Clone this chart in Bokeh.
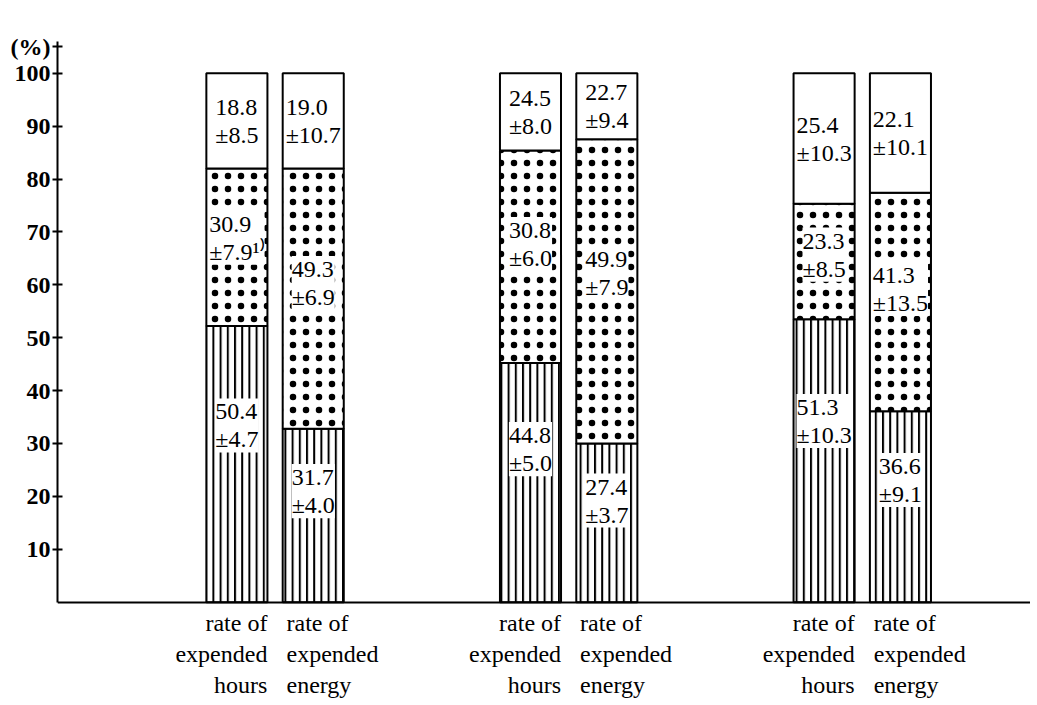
from bokeh.plotting import figure
from bokeh.models import ColumnDataSource, LabelSet, Range1d, FixedTicker
from bokeh.core.properties import value
from bokeh.transform import dodge
from bokeh.embed import file_html
from bokeh.resources import INLINE

# ---- data ----
groups = [1, 2, 3]
measures = ["rate of\nexpended\nhours", "rate of\nexpended\nenergy"]

# drawn segment heights (%)
hours_lines = [52.2, 45.2, 53.5]
hours_dots = [29.8, 40.2, 21.8]
energy_lines = [32.8, 30.0, 36.1]
energy_dots = [49.2, 57.5, 41.3]

# printed values: mean and SD per segment (bottom, middle, top)
hours_bottom_mean = ["50.4", "44.8", "51.3"]
hours_bottom_sd = ["4.7", "5.0", "10.3"]
hours_mid_mean = ["30.9", "30.8", "23.3"]
hours_mid_sd = ["7.9¹⁾", "6.0", "8.5"]
hours_top_mean = ["18.8", "24.5", "25.4"]
hours_top_sd = ["8.5", "8.0", "10.3"]

energy_bottom_mean = ["31.7", "27.4", "36.6"]
energy_bottom_sd = ["4.0", "3.7", "9.1"]
energy_mid_mean = ["49.3", "49.9", "41.3"]
energy_mid_sd = ["6.9", "7.9", "13.5"]
energy_top_mean = ["19.0", "22.7", "22.1"]
energy_top_sd = ["10.7", "9.4", "10.1"]

y_ticks = [10, 20, 30, 40, 50, 60, 70, 80, 90, 100]

FONT = "Liberation Serif"

p = figure(width=1030, height=700,
           x_range=Range1d(0.259, 3.573), y_range=Range1d(-18.6, 106),
           output_backend="svg", toolbar_location=None,
           min_border_left=57, min_border_right=0,
           min_border_top=41, min_border_bottom=0)
p.outline_line_color = None
p.grid.visible = False
p.background_fill_color = "white"

# y axis
p.yaxis.ticker = FixedTicker(ticks=y_ticks + [105])
p.yaxis.bounds = (0, 106)
p.yaxis.major_label_overrides = {105: "(%)"}
p.yaxis.axis_line_width = 2
p.yaxis.major_tick_line_width = 2
p.yaxis.major_tick_in = 5
p.yaxis.major_tick_out = 5
p.yaxis.minor_tick_line_color = None
p.yaxis.major_label_standoff = 2
p.yaxis.major_label_text_font = FONT
p.yaxis.major_label_text_font_size = "24px"
p.yaxis.major_label_text_font_style = "bold"
p.yaxis.major_label_text_color = "black"

# x axis: plain line at y = 0
p.xaxis.fixed_location = 0
p.xaxis.axis_line_width = 2
p.xaxis.major_tick_line_color = None
p.xaxis.minor_tick_line_color = None
p.xaxis.major_tick_out = 0
p.xaxis.major_tick_in = 0
p.xaxis.major_label_standoff = 0
p.xaxis.major_label_text_font_size = "0px"
p.xaxis.major_label_text_color = None

OFF = 0.13
W = 0.208


def add_bar(offset, lines, dots, bmean, bsd, mmean, msd, tmean, tsd, label, align, loff):
    rest = [100 - a - b for a, b in zip(lines, dots)]
    src = ColumnDataSource(dict(g=groups, lines=lines, dots=dots, rest=rest))
    p.vbar_stack(["lines", "dots", "rest"], x=dodge("g", offset, range=p.x_range),
                 width=W, source=src, fill_color="white", line_color="black",
                 line_width=2,
                 hatch_pattern=["vertical_line", "dot", "blank"],
                 hatch_color="black", hatch_scale=[7.2, 13, 1],
                 hatch_weight=[2.0, 1.3, 1])
    gx, ly, txt = [], [], []
    for i, g in enumerate(groups):
        b0, b1 = lines[i], lines[i] + dots[i]
        gx += [g, g, g]
        ly += [0.64 * lines[i], b0 + 0.56 * dots[i], b1 + 0.5 * rest[i]]
        txt += [f"{bmean[i]}\n±{bsd[i]}", f"{mmean[i]}\n±{msd[i]}", f"{tmean[i]}\n±{tsd[i]}"]
    lsrc = ColumnDataSource(dict(g=gx, y=ly, t=txt))
    p.add_layout(LabelSet(x=dodge("g", offset, range=p.x_range), y="y", text="t", source=lsrc,
                          text_align="center", text_baseline="middle",
                          text_font=FONT, text_font_size="24px", text_line_height=1.08,
                          text_color="black", background_fill_color="white"))
    asrc = ColumnDataSource(dict(g=groups, t=[label] * 3))
    p.text(x=dodge("g", loff, range=p.x_range), y=-1.5, text="t", source=asrc,
           text_align=align, text_baseline="top",
           text_font=value(FONT), text_font_size="24px", text_line_height=1.2,
           text_color="black")


add_bar(-OFF, hours_lines, hours_dots, hours_bottom_mean, hours_bottom_sd,
        hours_mid_mean, hours_mid_sd, hours_top_mean, hours_top_sd,
        measures[0], "right", -0.026)
add_bar(OFF, energy_lines, energy_dots, energy_bottom_mean, energy_bottom_sd,
        energy_mid_mean, energy_mid_sd, energy_top_mean, energy_top_sd,
        measures[1], "left", 0.039)

open("out.html", "w").write(file_html(p, INLINE))
